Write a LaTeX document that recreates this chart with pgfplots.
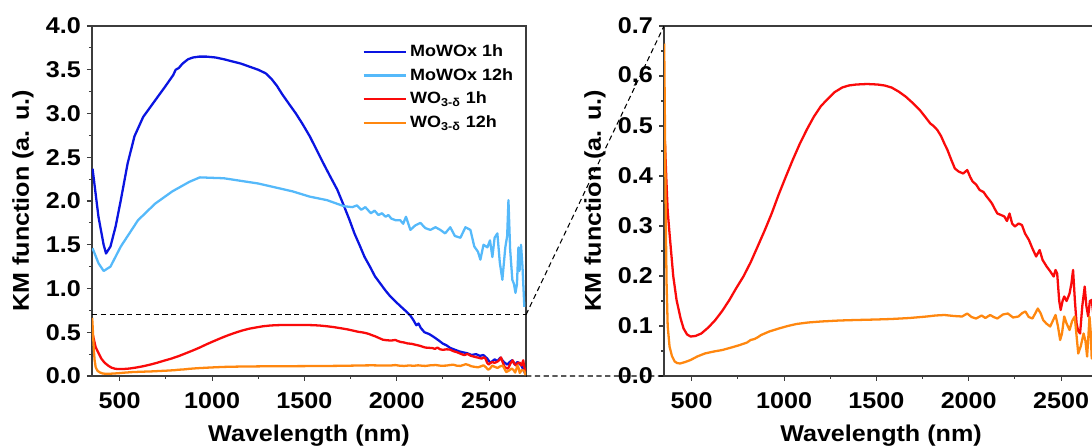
\documentclass[border=0pt]{standalone}
\usepackage{fontspec}
\setmainfont{Liberation Sans}[FakeStretch=1.1]
\usepackage{pgfplots}
\usepackage{pgfplotstable}
\pgfplotsset{compat=1.18}

\definecolor{mwdark}{RGB}{10,20,225}
\definecolor{mwlight}{RGB}{85,185,250}
\definecolor{wored}{RGB}{250,10,10}
\definecolor{woorange}{RGB}{255,135,15}
\definecolor{axisgray}{RGB}{60,60,60}

% MoWOx 1h
\pgfplotstableread{
wl km
353 2.37
385 1.82
413 1.50
426 1.40
450 1.48
478 1.71
506 2.01
543 2.43
580 2.74
627 2.96
692 3.15
747 3.31
790 3.44
803 3.50
820 3.52
840 3.57
870 3.62
896 3.64
930 3.65
971 3.65
1020 3.64
1064 3.62
1157 3.57
1250 3.50
1290 3.46
1320 3.40
1350 3.32
1380 3.22
1420 3.10
1454 3.00
1490 2.88
1529 2.74
1565 2.59
1603 2.43
1640 2.28
1678 2.13
1715 1.94
1745 1.78
1771 1.63
1800 1.49
1826 1.36
1855 1.25
1882 1.14
1910 1.06
1938 0.98
1965 0.91
1994 0.85
2019 0.80
2045 0.75
2074 0.69
2090 0.64
2106 0.58
2118 0.60
2130 0.55
2150 0.50
2175 0.48
2198 0.45
2225 0.41
2250 0.37
2270 0.35
2290 0.32
2315 0.30
2340 0.28
2360 0.27
2382 0.26
2405 0.24
2430 0.25
2450 0.23
2469 0.24
2490 0.20
2507 0.15
2530 0.19
2545 0.17
2561 0.21
2580 0.16
2599 0.13
2612 0.16
2625 0.18
2640 0.13
2654 0.16
2675 0.12
2686 0.07
2695 0.03
}\mowoxone

% MoWOx 12h
\pgfplotstableread{
wl km
353 1.46
385 1.29
413 1.20
450 1.25
506 1.48
599 1.78
692 1.97
785 2.11
878 2.22
934 2.27
1064 2.26
1250 2.20
1436 2.11
1529 2.05
1622 2.01
1715 1.94
1760 1.93
1785 1.95
1808 1.90
1830 1.93
1860 1.86
1880 1.89
1901 1.84
1920 1.86
1940 1.82
1955 1.84
1970 1.80
1994 1.78
2019 1.78
2035 1.74
2050 1.82
2074 1.67
2100 1.72
2128 1.75
2155 1.69
2182 1.67
2210 1.70
2236 1.67
2262 1.63
2290 1.70
2315 1.60
2345 1.58
2372 1.70
2399 1.67
2420 1.48
2440 1.42
2453 1.33
2470 1.50
2491 1.47
2505 1.55
2518 1.36
2530 1.58
2545 1.63
2558 1.30
2572 1.10
2588 1.47
2598 1.60
2605 2.01
2614 1.45
2626 1.10
2635 1.05
2643 0.95
2651 1.05
2659 1.47
2665 1.20
2673 1.50
2681 1.25
2691 0.79
}\mowoxtwelve

% WO3-d 1h
\pgfplotstableread{
wl km
355 0.47
362 0.40
370 0.33
380 0.285
400 0.20
418 0.152
440 0.115
456 0.095
475 0.083
494 0.079
520 0.080
552 0.085
590 0.097
628 0.112
665 0.130
704 0.152
740 0.175
780 0.199
820 0.228
857 0.259
895 0.291
933 0.325
970 0.362
1010 0.399
1048 0.433
1086 0.465
1125 0.494
1162 0.519
1200 0.540
1239 0.555
1275 0.568
1315 0.577
1350 0.581
1391 0.583
1450 0.584
1506 0.583
1545 0.581
1582 0.577
1620 0.569
1658 0.559
1700 0.545
1735 0.532
1765 0.518
1792 0.505
1810 0.500
1830 0.492
1850 0.480
1868 0.465
1885 0.452
1906 0.432
1925 0.415
1945 0.409
1970 0.405
1992 0.412
2008 0.398
2021 0.389
2040 0.383
2059 0.372
2080 0.368
2097 0.359
2112 0.352
2126 0.345
2140 0.335
2155 0.325
2175 0.322
2193 0.319
2207 0.310
2221 0.325
2235 0.305
2250 0.299
2270 0.305
2288 0.302
2305 0.285
2326 0.272
2345 0.255
2365 0.239
2384 0.252
2400 0.232
2422 0.219
2440 0.210
2460 0.199
2470 0.212
2479 0.205
2490 0.150
2498 0.132
2508 0.150
2517 0.159
2530 0.150
2546 0.165
2556 0.185
2565 0.212
2575 0.150
2584 0.105
2593 0.090
2603 0.085
2615 0.140
2628 0.179
2637 0.140
2647 0.119
2656 0.150
2666 0.152
2676 0.120
2685 0.180
2691 0.100
2697 0.050
}\woone

% WO3-d 12h
\pgfplotstableread{
wl km
351 0.665
354 0.55
357 0.419
360 0.30
364 0.185
370 0.100
380 0.059
393 0.040
408 0.029
420 0.026
437 0.025
465 0.028
494 0.032
530 0.039
571 0.045
620 0.049
666 0.052
715 0.057
761 0.062
800 0.067
819 0.072
840 0.074
860 0.078
876 0.082
920 0.089
972 0.095
1020 0.100
1067 0.104
1130 0.107
1200 0.109
1300 0.111
1391 0.112
1500 0.113
1582 0.114
1680 0.116
1773 0.119
1820 0.121
1868 0.122
1920 0.120
1964 0.119
1992 0.125
2015 0.118
2040 0.115
2070 0.121
2090 0.116
2116 0.122
2135 0.118
2155 0.115
2185 0.123
2212 0.125
2240 0.117
2269 0.119
2290 0.126
2307 0.129
2325 0.118
2345 0.115
2360 0.125
2374 0.135
2390 0.125
2403 0.112
2420 0.105
2441 0.099
2455 0.110
2470 0.122
2483 0.100
2495 0.072
2505 0.085
2517 0.119
2530 0.105
2546 0.092
2560 0.110
2574 0.119
2584 0.080
2593 0.045
2607 0.060
2622 0.085
2632 0.070
2641 0.039
2648 0.080
2654 0.119
2660 0.090
2666 0.035
2678 0.070
2690 0.060
2698 0.010
}\wotwelve

\pgfplotsset{
  kmpanel/.style={
    scale only axis,
    width=8.68cm, height=7cm,
    xmin=350, xmax=2700,
    xtick={500,1000,1500,2000,2500},
    minor x tick num=1,
    minor y tick num=1,
    tick align=outside,
    tick pos=left,
    major tick length=0.1cm,
    minor tick length=0.06cm,
    axis line style={draw=axisgray, line width=0.8pt},
    every tick/.style={draw=axisgray, line width=0.6pt},
    /pgf/number format/assume math mode=true,
    /pgf/number format/1000 sep={},
    ticklabel style={font=\fontsize{13}{13}\selectfont\bfseries},
    xticklabel style={yshift=-0.1cm},
    xlabel={Wavelength (nm)},
    ylabel={KM function (a. u.)},
    every axis x label/.style={at={(axis description cs:0.5,-0.17)}, anchor=center,
      font=\fontsize{13}{13}\selectfont\bfseries},
    every axis y label/.style={at={(axis description cs:-0.159,0.5)}, rotate=90, anchor=center,
      font=\fontsize{13}{13}\selectfont\bfseries},
    every axis plot/.append style={line width=1.3pt, line join=round},
  },
}

\begin{document}
\begin{tikzpicture}
\begin{axis}[
  kmpanel,
  ymin=0, ymax=4,
  ytick={0,0.5,1,1.5,2,2.5,3,3.5,4},
  yticklabel style={/pgf/number format/.cd, fixed, fixed zerofill, precision=1},
  legend style={at={(0.61,0.968)}, anchor=north west, draw=none, fill=none,
    font=\fontsize{9.3}{11}\selectfont\bfseries, row sep=1.2pt},
  legend cell align=left,
  legend image code/.code={\draw[#1] (0cm,0cm) -- (0.84cm,0cm);},
]
\addplot[mwdark] table {\mowoxone};
\addplot[mwlight] table {\mowoxtwelve};
\addplot[wored] table {\woone};
\addplot[woorange] table {\wotwelve};
\legend{MoWOx 1h, MoWOx 12h, WO\textsubscript{3-δ} 1h, WO\textsubscript{3-δ} 12h}
\draw[black, line width=0.6pt, dash pattern=on 3pt off 2pt] (axis cs:350,0.7) -- (axis cs:2700,0.7);
\coordinate (la) at (axis cs:2700,0.7);
\coordinate (lb) at (axis cs:2700,0);
\end{axis}

\begin{axis}[
  kmpanel,
  xshift=11.44cm,
  ymin=0, ymax=0.7,
  ytick={0,0.1,0.2,0.3,0.4,0.5,0.6,0.7},
  yticklabels={0.0,0.1,0.2,0.3,0.4,0.5,{0,6},0.7},
]
\addplot[wored] table {\woone};
\addplot[woorange] table {\wotwelve};
\coordinate (ra) at (rel axis cs:0,1);
\coordinate (rb) at (rel axis cs:0,0);
\end{axis}

\draw[black, line width=0.6pt, dash pattern=on 3pt off 2pt] (la) -- (ra) (lb) -- (rb);

\pgfresetboundingbox
\path[use as bounding box] (-1.84,-1.4) rectangle (20,7.52);
\end{tikzpicture}
\end{document}
